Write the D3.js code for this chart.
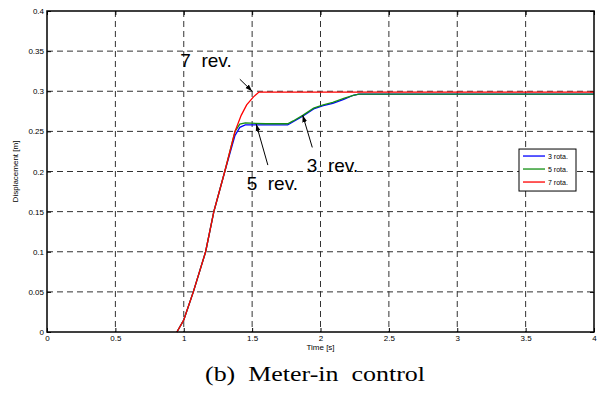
<!DOCTYPE html>
<head>
  <meta charset="utf-8">
  <style>
  body { margin: 0; background: #fff; }
  .grid line { stroke: #333; stroke-width: 1; stroke-dasharray: 6,4; }
  .tick text { font: 8px "Liberation Sans", Arial, sans-serif; fill: #000; }
  .line { fill: none; stroke-width: 1.3px; }
  .ann { font: 19px "Liberation Sans", Arial, sans-serif; white-space: pre; }
  </style>
</head>
<body>
<svg width="598" height="414"></svg>
<script src="https://cdn.jsdelivr.net/npm/d3@7"></script>
<script>
// time [s], displacement [m]
var t3 = [0.95, 1.0, 1.07, 1.16, 1.22, 1.30, 1.375, 1.41, 1.45, 1.60, 1.76, 1.80, 1.87, 1.95, 2.02, 2.09, 2.17, 2.24, 2.28, 4.0];
var v3 = [0, 0.015, 0.05, 0.10, 0.15, 0.20, 0.245, 0.255, 0.258, 0.258, 0.258, 0.262, 0.269, 0.278, 0.282, 0.285, 0.290, 0.295, 0.2965, 0.2965];
var t5 = [0.95, 1.0, 1.07, 1.16, 1.22, 1.30, 1.375, 1.41, 1.45, 1.60, 1.76, 1.80, 1.87, 1.95, 2.02, 2.09, 2.17, 2.24, 2.28, 4.0];
var v5 = [0, 0.015, 0.05, 0.10, 0.15, 0.20, 0.25, 0.259, 0.2605, 0.2595, 0.2595, 0.263, 0.270, 0.279, 0.283, 0.286, 0.291, 0.295, 0.2965, 0.2965];
var t7 = [0.95, 1.0, 1.07, 1.16, 1.22, 1.30, 1.375, 1.42, 1.46, 1.51, 1.55, 4.0];
var v7 = [0, 0.015, 0.05, 0.10, 0.15, 0.20, 0.25, 0.27, 0.283, 0.293, 0.299, 0.299];

var seriesNames = ["3 rota.", "5 rota.", "7 rota."];
var seriesColors = ["#0000ff", "#138f13", "#ff0000"];
var xTicks = [0, 0.5, 1, 1.5, 2, 2.5, 3, 3.5, 4];
var yTicks = [0, 0.05, 0.1, 0.15, 0.2, 0.25, 0.3, 0.35, 0.4];

// annotation: label, text pos, arrow tail, arrow head (data units)
var notes = [
  { text: "7  rev.", tx: 0.975, ty: 0.33, x1: 1.41, y1: 0.315, x2: 1.50, y2: 0.300 },
  { text: "5  rev.", tx: 1.46, ty: 0.177, x1: 1.615, y1: 0.208, x2: 1.53, y2: 0.259 },
  { text: "3  rev.", tx: 1.90, ty: 0.199, x1: 1.94, y1: 0.230, x2: 1.87, y2: 0.270 }
];

var svg = d3.select("svg");
var margin = { left: 47, top: 11, right: 4, bottom: 82 };
var width = 598 - margin.left - margin.right,
    height = 414 - margin.top - margin.bottom;

var x = d3.scaleLinear().domain([0, 4]).range([0, width]);
var y = d3.scaleLinear().domain([0, 0.4]).range([height, 0]);

var g = svg.append("g").attr("transform", "translate(" + margin.left + "," + margin.top + ")");

svg.append("defs").append("marker")
  .attr("id", "arr").attr("viewBox", "0 0 10 10")
  .attr("refX", 10).attr("refY", 5)
  .attr("markerWidth", 7).attr("markerHeight", 7)
  .attr("orient", "auto")
  .append("path").attr("d", "M0,1.5L10,5L0,8.5z").attr("fill", "#000");

// grid
var grid = g.append("g").attr("class", "grid");
grid.selectAll(".gx").data(xTicks.slice(1, -1)).enter().append("line")
  .attr("x1", d => x(d)).attr("x2", d => x(d)).attr("y1", 0).attr("y2", height);
grid.selectAll(".gy").data(yTicks.slice(1, -1)).enter().append("line")
  .attr("y1", d => y(d)).attr("y2", d => y(d)).attr("x1", 0).attr("x2", width);

// axes
var fmt = d3.format("~g");
g.append("g").attr("transform", "translate(0," + height + ")")
  .call(d3.axisBottom(x).tickValues(xTicks).tickFormat(fmt).tickSizeInner(-4).tickSizeOuter(0).tickPadding(3))
  .call(a => a.select(".domain").remove());
g.append("g")
  .call(d3.axisLeft(y).tickValues(yTicks).tickFormat(fmt).tickSizeInner(-4).tickSizeOuter(0).tickPadding(3))
  .call(a => a.select(".domain").remove());
g.append("g")
  .call(d3.axisTop(x).tickValues(xTicks).tickFormat("").tickSizeInner(-4).tickSizeOuter(0))
  .call(a => a.select(".domain").remove());
g.append("g").attr("transform", "translate(" + width + ",0)")
  .call(d3.axisRight(y).tickValues(yTicks).tickFormat("").tickSizeInner(-4).tickSizeOuter(0))
  .call(a => a.select(".domain").remove());
g.selectAll(".tick line").attr("stroke", "#000");

// curves
var series = [d3.zip(t3, v3), d3.zip(t5, v5), d3.zip(t7, v7)];
var line = d3.line().x(d => x(d[0])).y(d => y(d[1]));
g.selectAll(".line").data(series).enter().append("path")
  .attr("class", "line")
  .attr("d", line)
  .attr("stroke", (d, i) => seriesColors[i]);

// frame
g.append("rect").attr("width", width).attr("height", height)
  .attr("fill", "none").attr("stroke", "#000").attr("stroke-width", 1.5);

// annotations
notes.forEach(function(n) {
  g.append("text").attr("class", "ann").attr("x", x(n.tx)).attr("y", y(n.ty)).text(n.text);
  g.append("line").attr("x1", x(n.x1)).attr("y1", y(n.y1)).attr("x2", x(n.x2)).attr("y2", y(n.y2))
    .attr("stroke", "#000").attr("stroke-width", 1).attr("marker-end", "url(#arr)");
});

// legend
var lg = g.append("g").attr("transform", "translate(" + (width - 75) + "," + y(0.228) + ")");
lg.append("rect").attr("width", 57).attr("height", 42)
  .attr("fill", "#fff").attr("stroke", "#000").attr("stroke-width", 1);
seriesNames.forEach(function(s, i) {
  var yy = 7 + i * 13;
  lg.append("line").attr("x1", 4).attr("x2", 26).attr("y1", yy).attr("y2", yy)
    .attr("stroke", seriesColors[i]).attr("stroke-width", 1.3);
  lg.append("text").attr("x", 29).attr("y", yy + 2.5)
    .style("font", "7px 'Liberation Sans', Arial, sans-serif").text(s);
});

// axis titles
g.append("text").attr("x", width / 2).attr("y", height + 18).attr("text-anchor", "middle")
  .style("font", "8px 'Liberation Sans', Arial, sans-serif").text("Time [s]");
g.append("text").attr("transform", "translate(-29," + (height / 2) + ") rotate(-90)")
  .attr("text-anchor", "middle")
  .style("font", "8px 'Liberation Sans', Arial, sans-serif").text("Displacement [m]");

// caption
svg.append("text").attr("x", 315).attr("y", 381).attr("text-anchor", "middle")
  .style("font", "21px 'Liberation Serif', 'Times New Roman', serif")
  .style("white-space", "pre")
  .attr("textLength", 220).attr("lengthAdjust", "spacingAndGlyphs")
  .text("(b)  Meter-in  control");
</script>
</body>
